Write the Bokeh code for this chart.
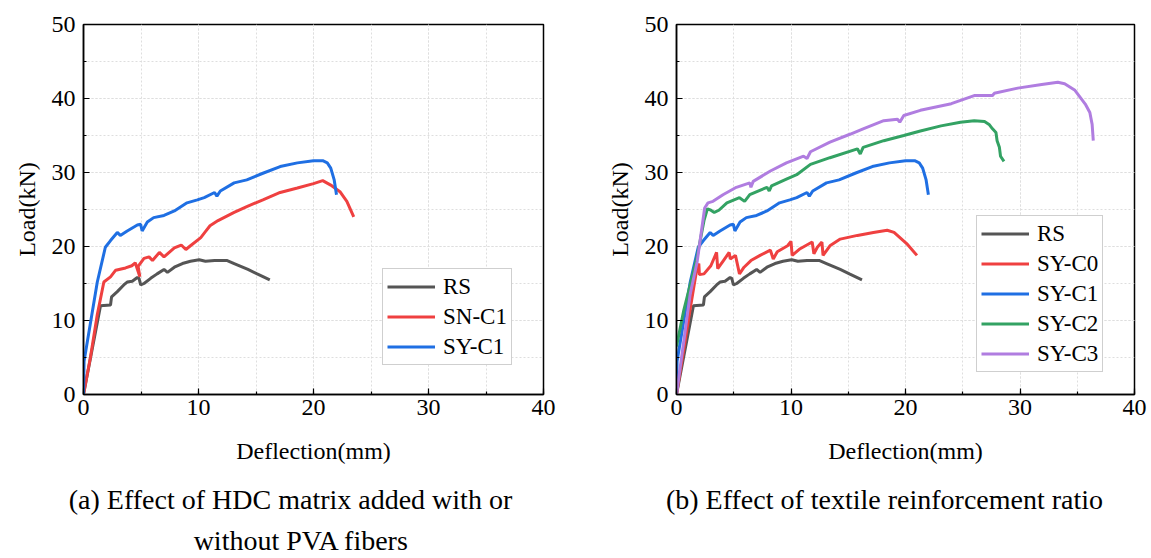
from bokeh.plotting import figure
from bokeh.layouts import row, column
from bokeh.models import SingleIntervalTicker, Range1d
from bokeh.core.properties import value
from bokeh.embed import file_html
from bokeh.resources import INLINE

FONT = "Times New Roman"

# ---- data (deflection mm, load kN) ----
rs_x = [0, 1.48, 2.35, 2.44, 2.94, 3.5, 3.8, 4.24, 4.68, 4.83, 4.97, 5.26, 5.84, 6.4, 7.0, 7.3,
        7.9, 8.6, 9.3, 10.06, 10.6, 11.4, 12.5, 13.1, 14.3, 15.1, 16.2]
rs_y = [0, 12.0, 12.1, 13.2, 13.9, 14.8, 15.2, 15.3, 15.8, 15.7, 14.8, 15.0, 15.7, 16.3, 16.9, 16.5,
        17.2, 17.7, 18.0, 18.2, 18.0, 18.1, 18.1, 17.7, 16.9, 16.3, 15.5]

sn_c1_x = [0, 0.6, 1.2, 1.77, 2.35, 2.8, 3.66, 4.2, 4.5, 4.9, 4.75, 5.26, 5.7, 6.0, 6.6, 7.0, 7.9,
           8.5, 8.9, 9.3, 10.2, 10.6, 11.0, 11.7, 13.1, 14.2, 15.6, 17.1, 18.6, 20.0, 20.8, 21.5,
           22.3, 22.9, 23.5]
sn_c1_y = [0, 5.0, 10.8, 15.2, 15.9, 16.8, 17.1, 17.4, 17.8, 15.9, 17.3, 18.4, 18.6, 18.1, 19.2, 18.6, 19.8,
           20.2, 19.6, 20.1, 21.2, 22.0, 22.8, 23.5, 24.6, 25.4, 26.3, 27.3, 27.9, 28.5, 28.9, 28.3,
           27.4, 26.1, 24.0]

sy_c1_x = [0, 0.05, 1.2, 1.9, 2.35, 2.94, 3.2, 3.8, 4.68, 4.97, 5.1, 5.55, 6.1, 7.0, 7.9, 9.0, 9.9,
           10.5, 11.4, 11.6, 11.9, 13.1, 14.2, 15.6, 17.1, 18.6, 20.0, 20.8, 21.2, 21.5, 21.8, 22.0]
sy_c1_y = [0, 4.5, 15.2, 19.9, 20.8, 21.9, 21.5, 22.1, 22.9, 23.0, 22.1, 23.3, 23.9, 24.2, 24.8, 25.9, 26.3,
           26.6, 27.3, 26.8, 27.5, 28.6, 29.0, 29.9, 30.8, 31.3, 31.6, 31.6, 31.3, 30.6, 29.0, 27.0]

sy_c0_x = [0, 1.22, 1.8, 1.95, 2.0, 2.4, 3.0, 3.5, 3.6, 4.1, 4.6, 4.7, 5.15, 5.5, 5.9, 6.5, 7.3, 8.2,
           8.45, 8.8, 9.7, 10.0, 10.1, 10.8, 11.85, 12.0, 12.3, 12.7, 12.8, 13.4, 14.3, 15.8, 17.2,
           18.4, 19.0, 20.1, 21.0]
sy_c0_y = [0, 11.8, 17.2, 17.7, 16.2, 16.3, 17.4, 19.2, 17.0, 18.1, 19.2, 18.3, 18.8, 16.3, 17.2, 18.1, 18.8, 19.5,
           18.3, 19.3, 20.1, 20.7, 18.8, 19.7, 20.6, 19.0, 19.9, 20.6, 18.8, 20.1, 21.0, 21.5, 21.9,
           22.2, 21.9, 20.4, 18.8]

sy_c2_x = [0, 0.64, 1.22, 1.8, 2.4, 2.7, 3.0, 3.3, 3.7, 4.4, 5.5, 5.95, 6.4, 7.9, 8.1, 8.3, 9.6, 10.5,
           11.7, 13.4, 15.8, 16.05, 16.3, 18.1, 19.85, 21.3, 23.1, 24.8, 26.0, 26.9, 27.3, 27.6, 27.9,
           28.0, 28.2, 28.3, 28.6]
sy_c2_y = [6.5, 11.4, 15.0, 18.6, 23.5, 25.1, 24.9, 24.6, 24.9, 25.9, 26.6, 26.1, 27.0, 28.0, 27.5, 28.2, 29.1, 29.7,
           31.1, 32.0, 33.2, 32.5, 33.4, 34.3, 35.0, 35.6, 36.3, 36.8, 37.0, 36.9, 36.5, 35.9, 35.4,
           34.3, 33.4, 32.2, 31.5]

sy_c3_x = [0, 1.2, 1.8, 2.46, 2.75, 3.19, 4.06, 5.23, 6.4, 6.5, 6.7, 8.2, 9.6, 11.1, 11.4, 11.7, 13.4,
           15.2, 16.3, 18.1, 19.3, 19.5, 19.85, 21.3, 24.0, 26.0, 27.6, 27.75, 29.8, 31.9, 33.3, 33.9,
           34.8, 35.7, 36.1, 36.3, 36.4]
sy_c3_y = [0, 13.6, 17.9, 25.2, 25.9, 26.1, 27.0, 28.0, 28.6, 28.0, 28.8, 30.2, 31.3, 32.2, 31.9, 32.8, 34.1,
           35.2, 35.9, 37.0, 37.2, 36.8, 37.7, 38.4, 39.3, 40.4, 40.4, 40.7, 41.4, 41.9, 42.2, 42.0,
           41.1, 39.25, 38.1, 36.5, 34.3]

C_RS = "#555555"
C_RED = "#ef4040"
C_BLUE = "#1f6fe3"
C_GREEN = "#33a263"
C_PURPLE = "#b07de0"

x_label = "Deflection(mm)"
y_label = "Load(kN)"

caption_text = ["(a) Effect of HDC matrix added with or", "without PVA fibers",
                "(b) Effect of textile reinforcement ratio"]

PLOT_H = 480


def make_fig(width, bl, br, bt):
    p = figure(width=width, height=PLOT_H, x_range=Range1d(0, 40), y_range=Range1d(0, 50),
               min_border_left=bl, min_border_right=br, min_border_top=bt,
               min_border_bottom=PLOT_H - 394,
               output_backend="svg", toolbar_location=None)
    p.background_fill_color = "white"
    p.border_fill_color = "white"
    p.outline_line_color = "black"
    p.outline_line_width = 1.5
    for ax in (p.xaxis[0], p.yaxis[0]):
        ax.ticker = SingleIntervalTicker(interval=10, num_minor_ticks=2)
        ax.axis_line_width = 1.5
        ax.axis_line_color = "black"
        ax.major_tick_in = 6
        ax.major_tick_out = 0
        ax.minor_tick_in = 3
        ax.minor_tick_out = 0
        ax.major_tick_line_width = 1.2
        ax.minor_tick_line_width = 1.2
        ax.major_label_text_font = FONT
        ax.major_label_text_font_size = "24px"
        ax.major_label_text_color = "black"
        ax.axis_label_text_font = FONT
        ax.axis_label_text_font_size = "24px"
        ax.axis_label_text_font_style = "normal"
        ax.axis_label_text_color = "black"
    p.xaxis.axis_label = x_label
    p.yaxis.axis_label = y_label
    p.xaxis.major_label_standoff = 5
    p.xaxis.axis_label_standoff = 20
    p.yaxis.major_label_standoff = 8
    p.yaxis.axis_label_standoff = 9
    for g in (p.xgrid[0], p.ygrid[0]):
        g.grid_line_color = "#dedede"
        g.grid_line_dash = "2 2"
        g.minor_grid_line_color = "#dedede"
        g.minor_grid_line_dash = "2 2"
    return p


pa = make_fig(580, 83, 37, 20)
pa.line(rs_x, rs_y, color=C_RS, line_width=3, legend_label="RS")
pa.line(sn_c1_x, sn_c1_y, color=C_RED, line_width=3, legend_label="SN-C1")
pa.line(sy_c1_x, sy_c1_y, color=C_BLUE, line_width=3, legend_label="SY-C1")

pb = make_fig(571, 96, 17, 24)
pb.line(rs_x, rs_y, color=C_RS, line_width=3, legend_label="RS")
pb.line(sy_c0_x, sy_c0_y, color=C_RED, line_width=3, legend_label="SY-C0")
pb.line(sy_c1_x, sy_c1_y, color=C_BLUE, line_width=3, legend_label="SY-C1")
pb.line(sy_c2_x, sy_c2_y, color=C_GREEN, line_width=3, legend_label="SY-C2")
pb.line(sy_c3_x, sy_c3_y, color=C_PURPLE, line_width=3, legend_label="SY-C3")

for p, loc in ((pa, (299, 29)), (pb, (300, 22))):
    lg = p.legend[0]
    lg.location = loc
    lg.label_text_font = FONT
    lg.label_text_font_size = "23px"
    lg.label_text_color = "black"
    lg.label_height = 27
    lg.glyph_height = 27
    lg.glyph_width = 48
    lg.label_standoff = 8
    lg.spacing = 3
    lg.padding = 4
    lg.margin = 0
    lg.border_line_color = "#a0a0a0"
    lg.border_line_width = 1
    lg.background_fill_alpha = 1.0

# caption strip below the two panels (canvas pixel coordinates, y downwards)
CAP_H = 558 - PLOT_H
pc = figure(width=1151, height=CAP_H, x_range=Range1d(0, 1151), y_range=Range1d(CAP_H, 0),
            min_border=0, output_backend="svg", toolbar_location=None,
            x_axis_type=None, y_axis_type=None)
pc.outline_line_color = None
pc.xgrid.visible = False
pc.ygrid.visible = False
pc.background_fill_color = "white"
pc.border_fill_color = "white"
pc.text(x=[290, 301, 884], y=[499 - PLOT_H, 540 - PLOT_H, 499 - PLOT_H], text=caption_text,
        text_font=value(FONT), text_font_size="28px", text_color="black",
        text_align="center", text_baseline="middle")

layout = column(row(pa, pb), pc)
open("out.html", "w").write(file_html(layout, INLINE))
